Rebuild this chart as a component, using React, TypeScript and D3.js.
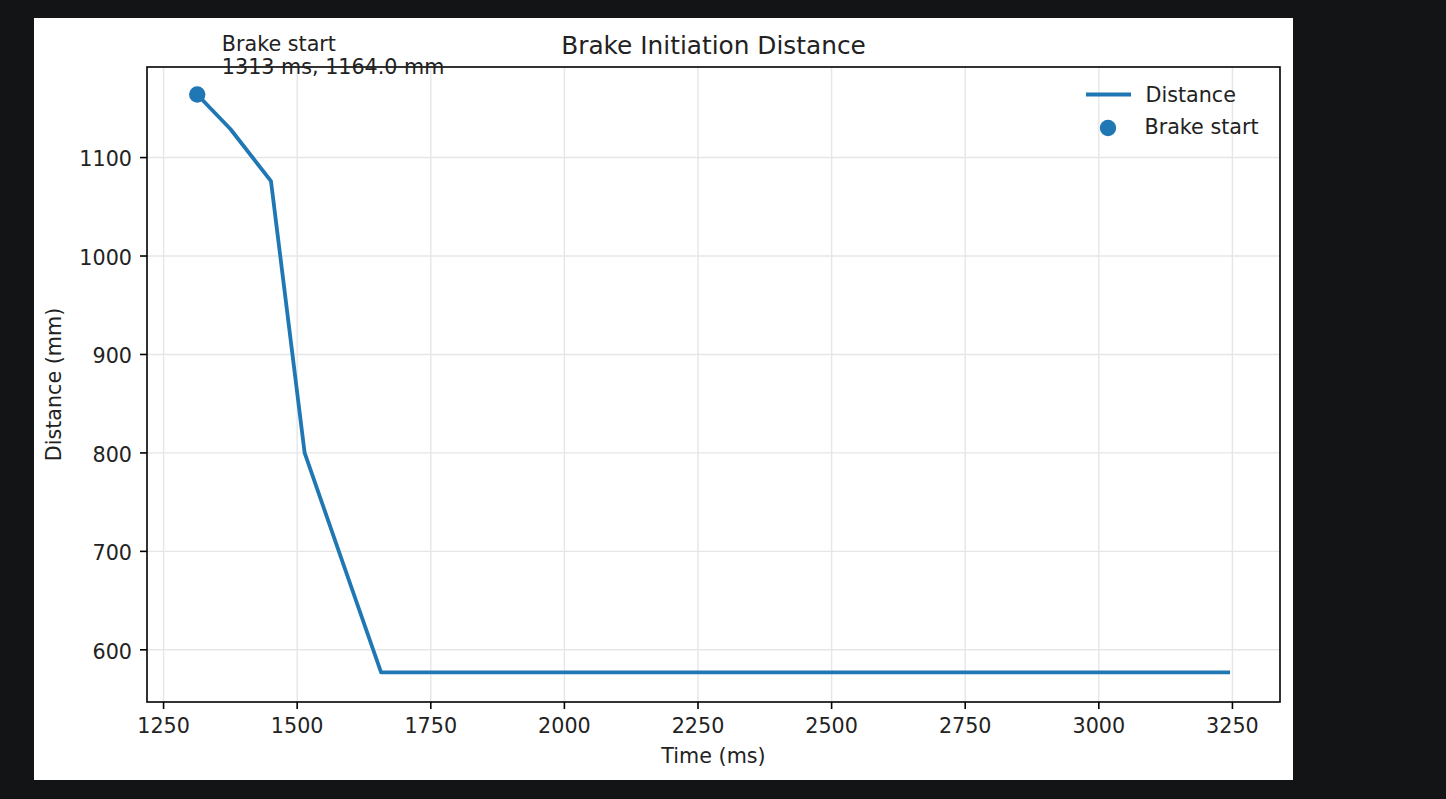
import { useEffect, useRef } from "react";
import * as d3 from "d3";

// sampled distance readings (ms, mm)
const timeMs = [1313, 1375, 1451, 1514, 1578, 1657, 3242];
const distanceMm = [1164, 1129, 1076, 800, 700, 577, 577];

const brakeTime = 1313;
const brakeDistance = 1164;

const xTicks = [1250, 1500, 1750, 2000, 2250, 2500, 2750, 3000, 3250];
const yTicks = [600, 700, 800, 900, 1000, 1100];

// axis limits as matplotlib picked them (5% margins)
const xLimits = [1219, 3339];
const yLimits = [547, 1192];

const W = 1446;
const H = 799;
const FONT = "'DejaVu Sans', sans-serif";
const FS = 20.7;
const BLUE = "#1f77b4";

export default function App() {
  const svgRef = useRef<SVGSVGElement | null>(null);

  useEffect(() => {
    if (!svgRef.current) return;
    const svg = d3.select(svgRef.current);
    svg.selectAll("*").remove();

    const left = 147;
    const right = 1280;
    const top = 67;
    const bottom = 702;

    const x = d3.scaleLinear().domain(xLimits).range([left, right]);
    const y = d3.scaleLinear().domain(yLimits).range([bottom, top]);

    // page + figure panel
    svg.append("rect").attr("width", W).attr("height", H).attr("fill", "#131416");
    svg.append("rect").attr("x", 34).attr("y", 18).attr("width", 1259).attr("height", 762).attr("fill", "#ffffff");

    // grid
    const grid = svg.append("g").attr("stroke", "#e6e6e6").attr("stroke-width", 1.4);
    xTicks.forEach((t) => {
      grid.append("line").attr("x1", x(t)).attr("x2", x(t)).attr("y1", top).attr("y2", bottom);
    });
    yTicks.forEach((t) => {
      grid.append("line").attr("x1", left).attr("x2", right).attr("y1", y(t)).attr("y2", y(t));
    });

    // distance line
    const pts = timeMs.map((t, i) => [t, distanceMm[i]] as [number, number]);
    const line = d3
      .line<[number, number]>()
      .x((d) => x(d[0]))
      .y((d) => y(d[1]));
    svg
      .append("path")
      .attr("d", line(pts) as string)
      .attr("fill", "none")
      .attr("stroke", BLUE)
      .attr("stroke-width", 3.8)
      .attr("stroke-linejoin", "round")
      .attr("stroke-linecap", "square");

    // brake start marker
    svg.append("circle").attr("cx", x(brakeTime)).attr("cy", y(brakeDistance)).attr("r", 8.2).attr("fill", BLUE);

    // frame
    svg
      .append("rect")
      .attr("x", left)
      .attr("y", top)
      .attr("width", right - left)
      .attr("height", bottom - top)
      .attr("fill", "none")
      .attr("stroke", "#000")
      .attr("stroke-width", 1.6);

    // x axis
    const xAxis = svg.append("g").attr("font-family", FONT).attr("font-size", FS).attr("fill", "#222");
    xTicks.forEach((t) => {
      xAxis.append("line").attr("x1", x(t)).attr("x2", x(t)).attr("y1", bottom).attr("y2", bottom + 7).attr("stroke", "#000").attr("stroke-width", 1.6);
      xAxis.append("text").attr("x", x(t)).attr("y", bottom + 31).attr("text-anchor", "middle").text(String(t));
    });

    // y axis
    const yAxis = svg.append("g").attr("font-family", FONT).attr("font-size", FS).attr("fill", "#222");
    yTicks.forEach((t) => {
      yAxis.append("line").attr("x1", left - 7).attr("x2", left).attr("y1", y(t)).attr("y2", y(t)).attr("stroke", "#000").attr("stroke-width", 1.6);
      yAxis.append("text").attr("x", left - 15).attr("y", y(t) + 8.8).attr("text-anchor", "end").text(String(t));
    });

    // axis labels + title
    svg
      .append("text")
      .attr("x", (left + right) / 2)
      .attr("y", 762.5)
      .attr("text-anchor", "middle")
      .attr("font-family", FONT)
      .attr("font-size", FS)
      .attr("fill", "#222")
      .text("Time (ms)");
    svg
      .append("text")
      .attr("transform", `translate(61,${(top + bottom) / 2}) rotate(-90)`)
      .attr("text-anchor", "middle")
      .attr("font-family", FONT)
      .attr("font-size", FS)
      .attr("fill", "#222")
      .text("Distance (mm)");
    svg
      .append("text")
      .attr("x", (left + right) / 2)
      .attr("y", 54)
      .attr("text-anchor", "middle")
      .attr("font-family", FONT)
      .attr("font-size", 24.8)
      .attr("fill", "#222")
      .text("Brake Initiation Distance");

    // annotation
    const ax = x(brakeTime) + 24.6;
    const ay = y(brakeDistance) - 20.5;
    const note = svg.append("text").attr("font-family", FONT).attr("font-size", FS).attr("fill", "#222");
    note.append("tspan").attr("x", ax).attr("y", ay - 23.4).text("Brake start");
    note
      .append("tspan")
      .attr("x", ax)
      .attr("y", ay)
      .text(`${brakeTime} ms, ${brakeDistance.toFixed(1)} mm`);

    // legend (no frame)
    const lg = svg.append("g").attr("font-family", FONT).attr("font-size", FS).attr("fill", "#222");
    lg.append("line").attr("x1", 1086).attr("x2", 1131).attr("y1", 94.5).attr("y2", 94.5).attr("stroke", BLUE).attr("stroke-width", 3.8);
    lg.append("text").attr("x", 1145.5).attr("y", 101.5).text("Distance");
    lg.append("circle").attr("cx", 1108).attr("cy", 128).attr("r", 8.2).attr("fill", BLUE);
    lg.append("text").attr("x", 1144.5).attr("y", 134).text("Brake start");
  }, []);

  return (
    <div style={{ position: "fixed", left: 0, top: 0, width: W, height: H, background: "#131416" }}>
      <svg ref={svgRef} width={W} height={H} style={{ display: "block" }} />
    </div>
  );
}
